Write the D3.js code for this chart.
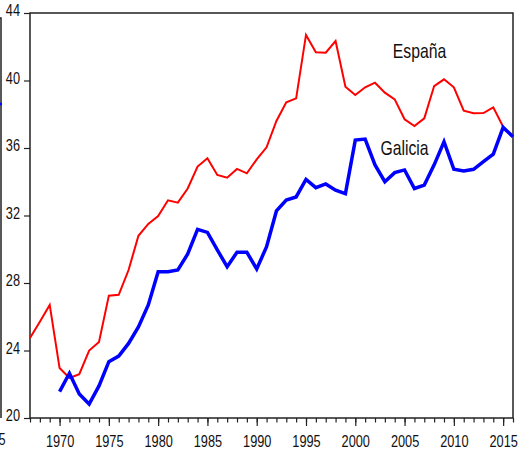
<!DOCTYPE html>
<html>
<head>
<meta charset="utf-8">
<script src="https://cdn.jsdelivr.net/npm/d3@7"></script>
<style>
  body { margin: 0; background: #fff; }
  text { font-family: "Liberation Sans", Arial, sans-serif; fill: #111; }
</style>
</head>
<body>
<svg class="wrapper" width="523" height="454"></svg>
<script>
// years for each series
const yearsEspana = d3.range(1967, 2016);
const yearsGalicia = d3.range(1970, 2017);

const espana = [24.74, 25.7, 26.7, 22.96, 22.37, 22.6, 24.0, 24.5, 27.25, 27.3,
  28.77, 30.8, 31.5, 31.97, 32.9, 32.76, 33.6, 34.9, 35.39, 34.4,
  34.24, 34.76, 34.5, 35.33, 36.04, 37.6, 38.71, 38.94, 42.7, 41.67,
  41.65, 42.34, 39.63, 39.14, 39.6, 39.87, 39.28, 38.88, 37.7, 37.3,
  37.76, 39.67, 40.07, 39.6, 38.21, 38.06, 38.07, 38.41, 37.26];

const galicia = [21.56, 22.65, 21.42, 20.83, 21.9, 23.34, 23.67, 24.42, 25.4, 26.7,
  28.67, 28.67, 28.77, 29.72, 31.18, 31.0, 29.96, 28.97, 29.82, 29.82,
  28.83, 30.15, 32.27, 32.92, 33.1, 34.14, 33.65, 33.87, 33.5, 33.3,
  36.47, 36.53, 35.0, 34.0, 34.54, 34.7, 33.6, 33.8, 35.0, 36.37,
  34.74, 34.64, 34.74, 35.19, 35.64, 37.22, 36.67];

const yTicks = [20, 24, 28, 32, 36, 40, 44];
const xTicks = [1970, 1975, 1980, 1985, 1990, 1995, 2000, 2005, 2010, 2015];

const pLeft = 30, pTop = 13, pRight = 513, pBottom = 418;
const squeeze = 0.75; // condensed look of the original font

const xScale = d3.scaleLinear().domain([1967, 2016]).range([pLeft, pRight]);
const yScale = d3.scaleLinear().domain([20, 44]).range([pBottom, pTop]);

const svg = d3.select(".wrapper");

// remnant of neighbouring panel at the far left
svg.append("path")
    .attr("d", `M-5,18H1V418`)
    .attr("fill", "none")
    .attr("stroke", "#222")
    .attr("stroke-width", 1.5);
svg.append("line")
    .attr("x1", -2).attr("x2", 2)
    .attr("y1", 104).attr("y2", 104)
    .attr("stroke", "#0000ff")
    .attr("stroke-width", 2.5);
svg.append("text")
    .attr("transform", `translate(5.5,445) scale(${squeeze},1)`)
    .attr("text-anchor", "end")
    .style("font-size", "17px")
    .text("2015");

// axes
const axisY = d3.axisLeft(yScale).tickValues(yTicks).tickSize(6).tickFormat(d3.format("d"));
svg.append("g")
    .classed("yAxis", true)
    .attr("transform", `translate(${pLeft},0)`)
    .call(axisY);

const axisXMinor = d3.axisBottom(xScale).tickValues(d3.range(1967, 2017)).tickSize(4.5).tickFormat("");
svg.append("g")
    .attr("transform", `translate(0,${pBottom})`)
    .call(axisXMinor);

const axisX = d3.axisBottom(xScale).tickValues(xTicks).tickSize(8).tickFormat(d3.format("d"));
svg.append("g")
    .classed("xAxis", true)
    .attr("transform", `translate(0,${pBottom})`)
    .call(axisX);

svg.selectAll(".domain").remove();
svg.selectAll(".tick line").attr("stroke", "#222").attr("stroke-width", 1.2);
svg.selectAll(".tick text").style("font-size", "17px").attr("fill", "#111");

svg.selectAll(".yAxis .tick text")
    .attr("x", null).attr("dy", null)
    .attr("transform", `translate(-10,2.5) scale(${squeeze},1)`);

svg.selectAll(".xAxis .tick text")
    .attr("y", null).attr("dy", null)
    .attr("transform", `translate(0,28.5) scale(${squeeze},1)`);

// frame
svg.append("rect")
    .attr("x", pLeft).attr("y", pTop)
    .attr("width", pRight - pLeft).attr("height", pBottom - pTop)
    .attr("fill", "none")
    .attr("stroke", "#222")
    .attr("stroke-width", 1.5);

const line = d3.line()
    .x(d => xScale(d[0]))
    .y(d => yScale(d[1]));

svg.append("path")
    .datum(yearsEspana.map((y, i) => [y, espana[i]]))
    .attr("d", line)
    .attr("fill", "none")
    .attr("stroke", "#ff0000")
    .attr("stroke-width", 2);

svg.append("path")
    .datum(yearsGalicia.map((y, i) => [y, galicia[i]]))
    .attr("d", line)
    .attr("fill", "none")
    .attr("stroke", "#0000ff")
    .attr("stroke-width", 3.5);

// series labels
svg.append("text")
    .attr("transform", `translate(419.5,58) scale(${squeeze},1)`)
    .attr("text-anchor", "middle")
    .style("font-size", "21px")
    .text("España");

svg.append("text")
    .attr("transform", `translate(404.5,155) scale(${squeeze},1)`)
    .attr("text-anchor", "middle")
    .style("font-size", "21px")
    .text("Galicia");
</script>
</body>
</html>
